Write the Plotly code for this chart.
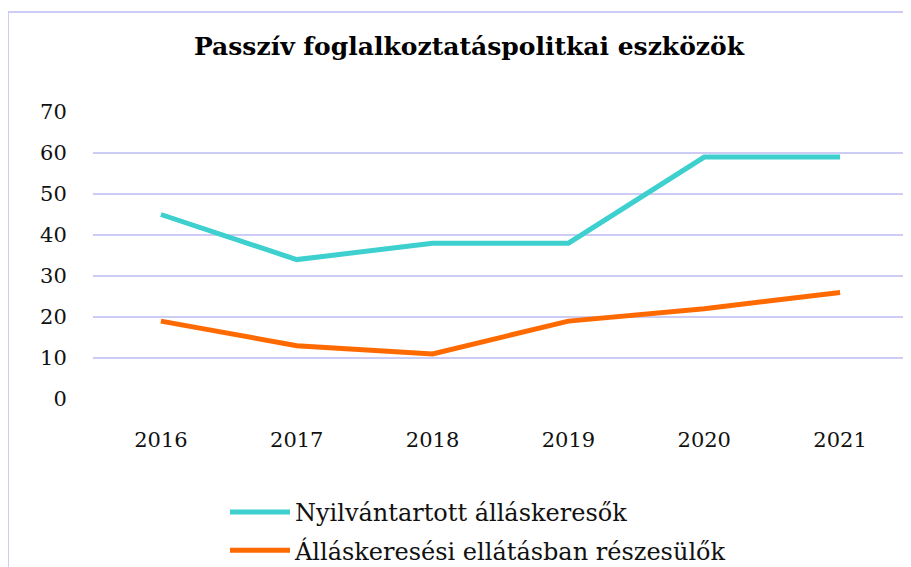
import plotly.graph_objects as go

years = ["2016", "2017", "2018", "2019", "2020", "2021"]
nyilvantartott = [45, 34, 38, 38, 59, 59]
ellatas = [19, 13, 11, 19, 22, 26]
series_names = ["Nyilvántartott álláskeresők", "Álláskeresési ellátásban részesülők"]
title_text = "Passzív foglalkoztatáspolitkai eszközök"
y_ticks = [0, 10, 20, 30, 40, 50, 60, 70]

# the page body adds an 8px offset; positions below are screen pixels minus that offset
OFF = 8
W, H = 911, 567
L, T = 93 - OFF, 112 - OFF
R = W - (908 - OFF)
B = H - (399 - OFF)
pw, ph = W - L - R, H - T - B

def px_x(x):
    return (x - OFF - L) / pw

def px_y(y):
    return (H - B - (y - OFF)) / ph

fig = go.Figure()
fig.add_trace(go.Scatter(x=years, y=nyilvantartott, name=series_names[0], mode="lines",
                         legendgroup="a", line=dict(color="#3ECFCF", width=5)))
fig.add_trace(go.Scatter(x=years, y=ellatas, name=series_names[1], mode="lines",
                         legendgroup="b", line=dict(color="#FF6A00", width=5)))

fig.update_layout(
    width=W, height=H,
    margin=dict(l=L, r=R, t=T, b=B, autoexpand=False),
    paper_bgcolor="white", plot_bgcolor="white",
    font=dict(family="DejaVu Serif", color="#111111"),
    title=dict(text="<b>" + title_text + "</b>", x=px_x(469), xref="paper", xanchor="center",
               y=1 - (46 - OFF) / H, yanchor="middle", font=dict(size=25, color="black")),
    xaxis=dict(type="category", range=[-0.5, len(years) - 0.5], showgrid=False, zeroline=False,
               showline=False, tickfont=dict(size=21), ticks="outside", ticklen=22,
               tickcolor="rgba(0,0,0,0)", automargin=False),
    yaxis=dict(range=[0, 70], tickvals=y_ticks, showgrid=True, gridcolor="#CCCCF5", gridwidth=2,
               zeroline=False, showline=False, tickfont=dict(size=21),
               ticks="outside", ticklen=21, tickcolor="rgba(0,0,0,0)", automargin=False),
    showlegend=True,
    legend=dict(x=px_x(225), y=px_y(490), xanchor="left", yanchor="top",
                font=dict(size=24), tracegroupgap=4, itemwidth=60, bgcolor="rgba(0,0,0,0)"),
    shapes=[dict(type="rect", xref="paper", yref="paper",
                 x0=px_x(8), x1=px_x(960), y0=px_y(620), y1=px_y(12),
                 line=dict(color="#CCCCF8", width=2), fillcolor="rgba(0,0,0,0)", layer="below")],
)

fig.write_html("out.html")
